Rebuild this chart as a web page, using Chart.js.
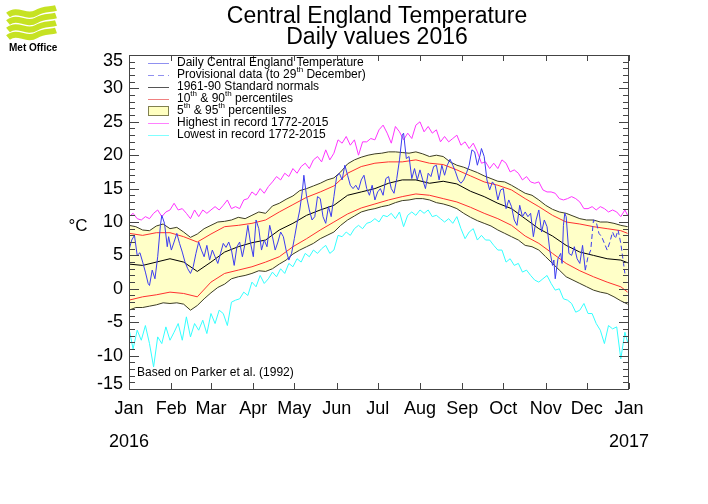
<!DOCTYPE html>
<html lang="en">
<head>
<meta charset="UTF-8">
<title>Central England Temperature - Daily values 2016</title>
<script src="https://cdn.jsdelivr.net/npm/chart.js@4.4.1/dist/chart.umd.min.js"></script>
<style>
    body { margin: 0; background: #fff; }
    #cet { display: block; }
</style>
</head>
<body>
<canvas id="cet" width="708" height="504"></canvas>
<script>
// month starts (day of year, 2016 is a leap year) and their labels
const monthStarts = [0, 31, 60, 91, 121, 152, 182, 213, 244, 274, 305, 335, 366];
const monthLabels = ['Jan', 'Feb', 'Mar', 'Apr', 'May', 'Jun', 'Jul', 'Aug', 'Sep', 'Oct', 'Nov', 'Dec', 'Jan'];
const yTicks = [-15, -10, -5, 0, 5, 10, 15, 20, 25, 30, 35];

// daily CET 2016
const dailyDays = [0,2,4,6,8,10,12,14,15,17,19,21,23,24,26,28,29,31,33,35,37,39,41,43,45,47,49,51,53,55,57,59,61,63,65,67,69,71,73,
    75,77,79,81,83,85,87,89,91,93,95,97,99,101,103,105,107,109,111,113,115,117,119,121,123,125,127,128,130,132,134,136,138,140,142,144,146,
    148,150,152,154,156,158,160,162,164,166,168,170,172,174,176,178,180,182,184,186,188,190,192,194,196,198,200,201,203,205,207,209,211,213,215,217,219,
    221,223,225,227,229,231,233,235,237,239,241,243,245,247,249,251,253,255,257,258,260,262,264,266,268,270,272,274,276,278,280,282,284,286,288,290,292,
    294,296,298,300,302,304,306,308,310,311,312,314,316,317,318,319,320,322,324,326,328,330,332,334];
const dailyTemps = [5.8,7.3,8.0,5.0,5.4,4.0,2.5,0.8,0.5,2.8,1.5,4.8,9.5,11.0,9.8,6.3,7.8,5.8,7.0,8.3,6.8,5.5,4.0,3.0,2.3,3.3,5.3,7.0,5.8,4.8,6.5,4.3,5.8,4.8,3.8,5.3,6.8,6.2,7.0,
    5.8,3.5,6.3,7.0,4.8,6.8,9.5,6.8,4.8,10.3,9.0,5.8,7.3,6.3,9.5,7.8,5.8,7.0,8.5,7.8,5.8,4.3,5.3,7.5,9.8,11.8,14.8,17.0,13.8,11.8,10.3,10.8,13.8,13.5,10.8,9.8,12.3,
    10.8,13.8,16.8,17.3,16.3,18.5,17.0,15.5,15.0,15.5,14.8,16.3,17.0,15.0,14.0,15.5,13.3,14.5,15.0,14.0,16.5,16.8,15.0,14.3,16.5,19.3,23.0,23.3,19.5,19.8,16.5,18.0,16.3,17.8,16.3,15.0,17.3,
    16.8,18.3,18.5,16.3,18.5,17.0,18.5,19.4,18.5,17.5,16.3,15.8,16.3,17.3,18.5,20.8,20.5,18.5,20.0,21.0,19.8,16.3,14.8,16.0,15.5,13.3,14.8,15.0,12.0,13.3,12.3,10.3,9.5,12.5,10.8,11.5,10.8,
    11.3,7.8,10.3,11.8,8.5,10.3,9.3,5.8,3.5,4.3,1.5,4.5,5.3,3.8,9.5,11.3,10.8,5.3,5.0,6.3,4.5,3.8,6.5,2.8];

// provisional values for December
const provDays = [334,336,338,340,342,344,346,348,350,352,354,356,358,360,362,363];
const provTemps = [2.8,4.8,5.8,10.3,10.0,8.3,7.8,6.8,5.8,7.0,8.5,7.5,8.8,6.8,3.8,2.3];

// 1961-90 normals, every 10 days
const normals = [3.7,3.5,4.0,4.5,4.0,2.6,4.0,5.5,6.3,6.9,7.3,8.8,9.8,11.0,11.8,12.5,14.0,14.5,15.0,15.8,16.3,16.3,15.8,16.1,15.7,14.6,13.8,12.8,12.0,10.5,9.0,7.9,6.5,5.5,5.0,4.5,4.3,3.9];

// 10th / 90th percentiles, every 10 days
const p90 = [8.3,8.0,8.4,8.4,7.8,7.0,8.2,9.3,9.5,9.8,10.3,11.5,12.6,13.7,14.5,15.4,17.3,18.3,18.8,19.0,19.0,19.3,18.8,18.6,17.8,16.9,16.0,15.5,14.8,13.5,12.3,11.0,10.0,9.7,9.3,9.0,8.7,8.3];
const p10 = [-1.7,-1.2,-0.9,-0.5,-0.7,-1.2,1.0,2.3,2.8,3.3,4.0,4.8,6.3,7.5,8.8,10.0,11.2,12.1,12.7,13.3,13.8,14.2,14.0,13.5,13.0,12.2,11.3,10.5,9.5,7.9,6.8,5.3,3.8,2.7,1.8,1.0,0.3,-0.5];

// 5th / 95th percentiles, every 5 days
const p95 = [9.5,9.3,8.8,8.7,9.4,9.7,9.0,9.2,8.5,7.7,8.2,9.0,9.5,10.0,10.1,
    10.3,10.7,10.5,11.0,11.5,11.3,12.4,12.8,13.4,13.9,14.7,15.0,15.4,15.8,16.3,
    16.6,17.5,18.7,19.3,19.7,20.0,20.2,20.3,20.5,20.5,20.4,20.3,20.5,20.2,19.8,
    20.0,19.8,19.0,18.5,18.2,17.8,17.4,16.9,16.5,16.1,16.0,15.5,14.9,14.3,
    14.0,13.3,12.5,11.9,11.5,11.3,10.9,10.5,10.3,10.3,10.0,10.0,9.8,9.5,9.3];
const p05 = [-3.2,-2.8,-2.8,-2.6,-2.4,-2.1,-2.2,-2.1,-2.3,-3.2,-2.5,-1.5,-0.6,0.2,0.7,
    1.5,1.8,2.0,2.3,2.7,2.6,3.0,3.7,4.3,5.2,5.8,6.3,6.8,7.5,8.0,
    8.5,9.5,10.3,10.9,11.5,11.8,12.0,12.3,12.5,12.9,13.2,13.3,13.5,13.5,13.3,
    12.9,12.7,12.4,12.0,11.3,10.7,10.2,9.8,9.4,8.8,8.3,7.8,7.3,6.5,
    6.3,5.8,4.8,3.8,2.8,1.8,1.3,0.8,0.3,-0.2,-0.5,-0.7,-1.2,-1.8,-2.3];

// highest / lowest in record 1772-2015, every 3 days
const highest = [10.8,11.3,10.5,10.3,10.8,10.5,11.3,11.8,10.8,11.5,11.8,12.8,11.8,12.0,11.3,10.5,11.8,10.8,11.8,11.3,11.8,12.3,11.8,12.5,13.3,
    12.0,12.3,12.0,13.3,13.5,14.5,14.0,15.0,14.3,15.3,16.0,16.8,16.3,17.3,16.8,18.0,17.3,18.3,18.8,18.0,19.3,19.8,19.0,20.8,19.3,
    20.3,22.3,21.8,22.8,21.5,22.3,20.0,22.0,22.0,22.5,22.3,23.8,24.5,23.3,21.8,24.3,23.5,22.3,23.3,22.5,24.5,25.0,23.5,24.3,
    23.3,23.8,22.0,22.8,22.0,22.5,23.0,21.5,22.0,21.0,21.8,20.5,18.8,19.0,18.0,18.8,18.0,19.3,18.8,17.5,17.8,17.3,16.3,16.8,
    16.0,15.8,16.0,14.8,14.5,14.5,14.3,13.5,13.3,13.5,13.8,13.5,13.0,12.0,12.0,12.3,11.8,12.3,12.0,11.5,11.8,11.5,10.8,11.8,11.0];
const lowest = [-6.0,-9.0,-6.2,-7.7,-5.5,-8.2,-11.7,-7.2,-8.2,-5.7,-7.7,-6.5,-5.2,-7.7,-4.2,-7.2,-5.2,-6.2,-4.7,-6.7,-3.7,-5.2,-3.2,-3.7,-5.5,
    -2.0,-1.7,-1.5,-0.5,-1.0,1.0,0.3,2.0,0.8,1.5,2.5,1.8,3.0,2.3,3.8,3.3,4.5,4.0,5.3,4.8,5.8,5.3,6.0,6.5,5.3,
    5.8,8.0,7.8,8.5,8.0,9.0,9.5,9.0,9.8,10.0,10.5,10.0,11.0,10.8,11.3,10.5,11.5,9.3,11.0,11.5,11.0,11.8,11.3,11.8,
    10.8,11.0,10.5,10.0,10.5,9.8,10.8,9.0,7.5,8.5,9.0,7.3,8.0,7.3,7.3,6.5,5.8,5.8,4.0,4.5,3.5,3.8,2.5,2.8,
    2.0,1.3,1.0,1.5,2.0,0.8,-0.2,0.0,-1.5,-1.7,-2.2,-3.5,-3.2,-2.2,-3.7,-3.7,-5.2,-6.2,-8.2,-5.5,-6.0,-5.7,-10.5,-6.5,-8.0];

const FONT = '"Liberation Sans", Arial, Helvetica, sans-serif';

// pair days with values; evenly spaced series get their day from the index
function points(days, vals) {
    return vals.map((v, i) => ({ x: days[i], y: v }));
}
function everyN(vals, step) {
    return vals.map((v, i) => ({ x: Math.min(i * step, 365), y: v }));
}

function line(data, color, extra) {
    return Object.assign({
        data: data,
        borderColor: color,
        borderWidth: 1,
        pointRadius: 0,
        tension: 0,
        fill: false
    }, extra || {});
}

// draws text with superscript parts, e.g. [['10'], ['th', true]]
function richText(ctx, x, y, parts, size) {
    parts.forEach(p => {
        ctx.font = (p[1] ? Math.round(size * 0.65) : size) + 'px ' + FONT;
        ctx.fillText(p[0], x, p[1] ? y - size * 0.4 : y);
        x += ctx.measureText(p[0]).width;
    });
}

// frame, inward ticks, y labels, titles, legend and logo
const decorations = {
    id: 'decorations',
    afterDraw(chart) {
        const ctx = chart.ctx;
        const a = chart.chartArea;
        const xs = chart.scales.x, ys = chart.scales.y;
        ctx.save();
        ctx.strokeStyle = '#444';
        ctx.lineWidth = 1;
        ctx.strokeRect(a.left + 0.5, a.top + 0.5, a.right - a.left - 1, a.bottom - a.top);

        ctx.beginPath();
        for (let v = -15; v <= 35; v++) {
            const y = Math.round(ys.getPixelForValue(v)) + 0.5;
            const len = v % 5 === 0 ? 10 : 6;
            ctx.moveTo(a.left, y); ctx.lineTo(a.left + len, y);
            ctx.moveTo(a.right, y); ctx.lineTo(a.right - len, y);
        }
        monthStarts.forEach(d => {
            const x = Math.round(xs.getPixelForValue(d)) + 0.5;
            ctx.moveTo(x, a.bottom); ctx.lineTo(x, a.bottom - 6);
            ctx.moveTo(x, a.top); ctx.lineTo(x, a.top + 6);
        });
        ctx.stroke();

        // y labels, the end ones kept inside the frame like the original
        ctx.fillStyle = '#000';
        ctx.textAlign = 'right';
        ctx.textBaseline = 'middle';
        ctx.font = '18px ' + FONT;
        yTicks.forEach(v => {
            const y = Math.min(Math.max(ys.getPixelForValue(v), a.top + 6), a.bottom - 5);
            ctx.fillText(String(v), a.left - 6, y);
        });

        ctx.textAlign = 'center';
        ctx.font = '23px ' + FONT;
        ctx.fillText('Central England Temperature', 377, 17);
        ctx.fillText('Daily values 2016', 377, 38);

        ctx.font = '18px ' + FONT;
        ctx.fillText('2016', xs.getPixelForValue(0), 442);
        ctx.fillText('2017', xs.getPixelForValue(366), 442);
        ctx.font = '17px ' + FONT;
        ctx.fillText('\u00B0C', 78, 226);

        ctx.textAlign = 'left';
        ctx.font = '12px ' + FONT;
        ctx.fillText('Based on Parker et al. (1992)', 137, 373);

        // legend
        const lx = 148, tx = 177;
        const rows = [
            { color: '#9090f0', parts: [['Daily Central England Temperature']] },
            { color: '#9090f0', dash: [6, 4], parts: [['Provisional data (to 29'], ['th', true], [' December)']] },
            { color: '#555', parts: [['1961-90 Standard normals']] },
            { color: '#f08080', parts: [['10'], ['th', true], [' & 90'], ['th', true], [' percentiles']] },
            { box: true, parts: [['5'], ['th', true], [' & 95'], ['th', true], [' percentiles']] },
            { color: '#ff80ff', parts: [['Highest in record 1772-2015']] },
            { color: '#80ffff', parts: [['Lowest in record 1772-2015']] }
        ];
        rows.forEach((r, i) => {
            const y = 63 + i * 12;
            if (r.box) {
                ctx.fillStyle = '#ffffc0';
                ctx.fillRect(lx, y - 5, 20, 10);
                ctx.strokeStyle = '#808050';
                ctx.strokeRect(lx + 0.5, y - 4.5, 20, 9);
            } else {
                ctx.strokeStyle = r.color;
                ctx.setLineDash(r.dash || []);
                ctx.beginPath();
                ctx.moveTo(lx, y + 0.5); ctx.lineTo(lx + 21, y + 0.5);
                ctx.stroke();
                ctx.setLineDash([]);
            }
            ctx.fillStyle = '#000';
            richText(ctx, tx, y, r.parts, 12);
        });

        // Met Office logo
        ctx.strokeStyle = '#c6e223';
        ctx.lineWidth = 6;
        [13, 20.5, 28, 35.5].forEach(y => {
            ctx.beginPath();
            ctx.moveTo(8, y + 2);
            ctx.bezierCurveTo(18, y - 6, 26, y + 6, 36, y);
            ctx.bezierCurveTo(44, y - 5, 50, y - 3, 56, y - 5);
            ctx.stroke();
        });
        ctx.fillStyle = '#000';
        ctx.font = 'bold 10px ' + FONT;
        ctx.fillText('Met Office', 9, 48);
        ctx.restore();
    }
};

const datasets = [
    line(points(dailyDays, dailyTemps), '#3c3cf0'),
    line(points(provDays, provTemps), '#3c3cf0', { borderDash: [5, 3] }),
    line(everyN(normals, 10), '#000000'),
    line(everyN(p90, 10), '#ff3030'),
    line(everyN(p10, 10), '#ff3030'),
    line(everyN(p95, 5), '#3c3c24', { fill: { target: 6 }, backgroundColor: '#ffffc8' }),
    line(everyN(p05, 5), '#3c3c24'),
    line(everyN(highest, 3), '#ff33ff'),
    line(everyN(lowest, 3), '#33ffff')
];

new Chart(document.getElementById('cet'), {
    type: 'line',
    data: { datasets: datasets },
    options: {
        responsive: false,
        animation: false,
        devicePixelRatio: 1,
        layout: { padding: { top: 55, right: 79, left: 0, bottom: 0 } },
        plugins: {
            legend: { display: false },
            tooltip: { enabled: false },
            filler: { drawTime: 'beforeDatasetsDraw' }
        },
        scales: {
            x: {
                type: 'linear',
                min: 0,
                max: 366,
                grid: { display: false, drawTicks: false },
                border: { display: false },
                afterBuildTicks: s => { s.ticks = monthStarts.map(v => ({ value: v })); },
                afterFit: s => { s.height = 115; },
                ticks: {
                    autoSkip: false,
                    maxRotation: 0,
                    padding: 9,
                    color: '#000',
                    font: { family: FONT, size: 18 },
                    callback: (v, i) => monthLabels[i]
                }
            },
            y: {
                min: -15,
                max: 35,
                grid: { display: false, drawTicks: false },
                border: { display: false },
                afterBuildTicks: s => { s.ticks = yTicks.map(v => ({ value: v })); },
                afterFit: s => { s.width = 129; },
                ticks: { display: false }
            }
        }
    },
    plugins: [decorations]
});
</script>
</body>
</html>
